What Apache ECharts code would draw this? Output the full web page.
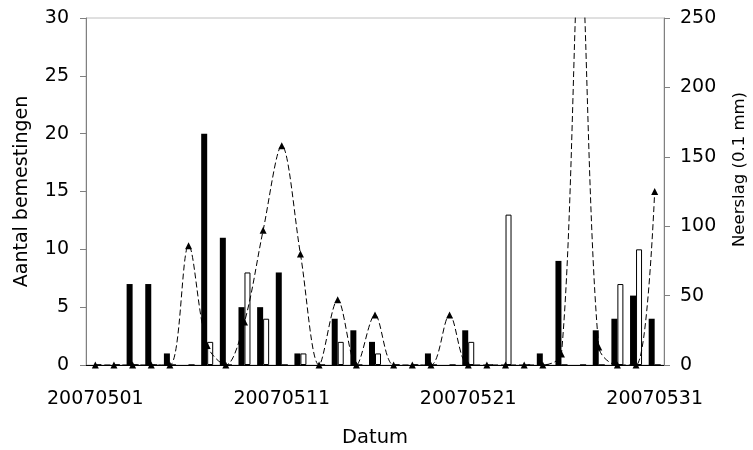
<!DOCTYPE html>
<html>
<head>
<meta charset="utf-8">
<script src="https://cdn.jsdelivr.net/npm/echarts@6/dist/echarts.min.js"></script>
<style>html,body{margin:0;padding:0;background:#fff;}#c{width:753px;height:450px;}</style>
</head>
<body>
<div id="c"></div>
<script>
const categories = ["20070501","20070502","20070503","20070504","20070505","20070506","20070507","20070508","20070509","20070510",
  "20070511","20070512","20070513","20070514","20070515","20070516","20070517","20070518","20070519","20070520",
  "20070521","20070522","20070523","20070524","20070525","20070526","20070527","20070528","20070529","20070530","20070531"];
const blackBars = [0,0,7,7,1,0,20,11,5,5, 8,1,0,4,3,2,0,0,1,0, 3,0,0,0,1,9,0,3,4,6, 4];
const whiteBars = [0,0,0,0,0,0,2,0,8,4, 0,1,0,2,0,1,0,0,0,0, 2,0,13,0,0,0,0,0,7,10, 0];
const neerslag  = [0,0,0,0,0,86,14,0,31,97, 158,80,0,47,0,36,0,0,0,36, 0,0,0,0,0,8,300,13,0,0, 125];
const leftTicks = {min:0, max:30, interval:5};
const rightTicks = {min:0, max:250, interval:50};

const FONT = 'DejaVu Sans';
const chart = echarts.init(document.getElementById('c'), null, {renderer:'canvas'});
chart.setOption({
  animation:false,
  backgroundColor:'#fff',
  textStyle:{fontFamily:FONT},
  grid:{left:86, right:89, top:18, bottom:85, containLabel:false, outerBoundsMode:'none',
        show:true, borderColor:'#c0c0c0', borderWidth:1, backgroundColor:'transparent'},
  xAxis:{
    type:'category', data:categories, boundaryGap:true,
    name:'Datum', nameLocation:'middle', nameGap:63,
    nameTextStyle:{fontFamily:FONT, fontSize:19.5, color:'#000'},
    axisLine:{lineStyle:{color:'#000', width:1}},
    axisTick:{interval:9, length:5, lineStyle:{color:'#000'}},
    axisLabel:{interval:9, fontFamily:FONT, fontSize:19, color:'#000', margin:25}
  },
  yAxis:[{
    type:'value', min:leftTicks.min, max:leftTicks.max, interval:leftTicks.interval,
    name:'Aantal bemestingen', nameLocation:'middle', nameGap:54, nameRotate:90,
    nameTextStyle:{fontFamily:FONT, fontSize:19, color:'#000'},
    axisLine:{show:true, lineStyle:{color:'#808080'}},
    axisTick:{show:true, length:6, lineStyle:{color:'#808080'}},
    axisLabel:{fontFamily:FONT, fontSize:19, color:'#000', margin:17},
    splitLine:{show:false}
  },{
    type:'value', position:'right', min:rightTicks.min, max:rightTicks.max, interval:rightTicks.interval,
    name:'Neerslag (0.1 mm)', nameLocation:'middle', nameGap:67, nameRotate:90,
    nameTextStyle:{fontFamily:FONT, fontSize:16.5, color:'#000', padding:[0,0,0,44]},
    axisLine:{show:true, lineStyle:{color:'#808080'}},
    axisTick:{show:true, length:6, lineStyle:{color:'#808080'}},
    axisLabel:{fontFamily:FONT, fontSize:19, color:'#000', margin:16},
    splitLine:{show:false}
  }],
  series:[{
    type:'bar', data:blackBars, yAxisIndex:0, barWidth:6, barGap:'0%',
    itemStyle:{color:'#000'}
  },{
    type:'bar', data:whiteBars, yAxisIndex:0, barWidth:6, barGap:'0%',
    itemStyle:{color:'#fff', borderColor:'#000', borderWidth:1}
  },{
    type:'line', data:neerslag, yAxisIndex:1, smooth:0.33,
    symbol:'triangle', symbolSize:7, z:5,
    lineStyle:{color:'#000', width:1, type:[6,3]},
    itemStyle:{color:'#000'}
  }]
});
</script>
</body>
</html>
